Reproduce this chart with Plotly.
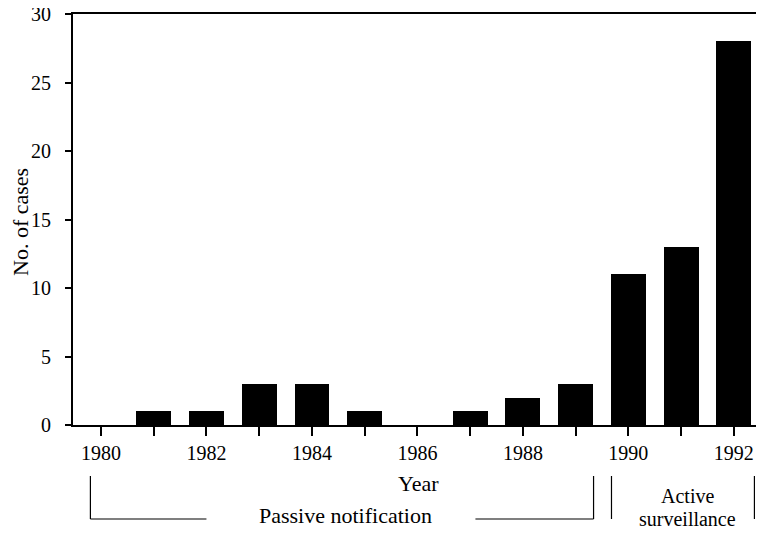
import plotly.graph_objects as go

years = [1980, 1981, 1982, 1983, 1984, 1985, 1986, 1987, 1988, 1989, 1990, 1991, 1992]
cases = [0, 1, 1, 3, 3, 1, 0, 1, 2, 3, 11, 13, 28]
x_tick_vals = [1980, 1982, 1984, 1986, 1988, 1990, 1992]
y_tick_vals = [0, 5, 10, 15, 20, 25, 30]

FONT = "Liberation Serif, Times New Roman, serif"

fig = go.Figure()
fig.add_trace(go.Bar(x=years, y=cases, width=0.66, marker=dict(color="black", line=dict(width=0))))

# page body has an 8px margin, so the figure is sized/offset to compensate
fig.update_layout(
    width=748, height=523,
    margin=dict(l=65, r=0, t=6, b=106, autoexpand=False),
    paper_bgcolor="white", plot_bgcolor="white",
    font=dict(family=FONT, size=20, color="black"),
    showlegend=False,
    bargap=0,
)
fig.update_xaxes(
    range=[1979.47, 1992.42],
    tickmode="array", tickvals=years,
    ticktext=[str(y) if y in x_tick_vals else "" for y in years],
    ticks="outside", ticklen=9, tickwidth=2, tickcolor="black",
    ticklabeloverflow="allow",
    showline=True, linecolor="black", linewidth=2, mirror=True,
    showgrid=False, zeroline=False, automargin=False,
    tickfont=dict(size=20),
)
fig.update_yaxes(
    range=[0, 30],
    tickmode="array", tickvals=y_tick_vals,
    ticks="outside", ticklen=6, tickwidth=2, tickcolor="black",
    ticklabelstandoff=10, ticklabeloverflow="allow",
    showline=True, linecolor="black", linewidth=2,
    showgrid=False, zeroline=False, automargin=False,
    tickfont=dict(size=20),
)

def py(p):
    return (425 - p) / 411.0

def pxp(p):
    return (p - 73) / 683.0

# axis titles
fig.add_annotation(xref="x", yref="paper", x=1986.03, y=py(483), text="Year",
                   showarrow=False, yanchor="middle", font=dict(size=22))
fig.add_annotation(xref="paper", yref="paper", x=pxp(20), y=py(222), text="No. of cases",
                   showarrow=False, textangle=-90, xanchor="center", yanchor="middle",
                   font=dict(size=22))

line = dict(color="black", width=1.2)
top, bot = py(476), py(519)
# Passive notification bracket
fig.add_shape(type="line", xref="x", yref="paper", x0=1979.8, x1=1979.8, y0=top, y1=bot, line=line)
fig.add_shape(type="line", xref="x", yref="paper", x0=1979.8, x1=1982.0, y0=bot, y1=bot, line=line)
fig.add_shape(type="line", xref="x", yref="paper", x0=1987.1, x1=1989.34, y0=bot, y1=bot, line=line)
fig.add_shape(type="line", xref="x", yref="paper", x0=1989.34, x1=1989.34, y0=top, y1=bot, line=line)
# Active surveillance bracket
fig.add_shape(type="line", xref="x", yref="paper", x0=1989.68, x1=1989.68, y0=top, y1=bot, line=line)
fig.add_shape(type="line", xref="x", yref="paper", x0=1992.39, x1=1992.39, y0=top, y1=bot, line=line)

fig.add_annotation(xref="x", yref="paper", x=1984.63, y=py(515), text="Passive notification",
                   showarrow=False, yanchor="middle", font=dict(size=22))
fig.add_annotation(xref="x", yref="paper", x=1991.13, y=py(496), text="Active",
                   showarrow=False, yanchor="middle", font=dict(size=20))
fig.add_annotation(xref="x", yref="paper", x=1991.13, y=py(519), text="surveillance",
                   showarrow=False, yanchor="middle", font=dict(size=20))

fig.write_html("out.html")
